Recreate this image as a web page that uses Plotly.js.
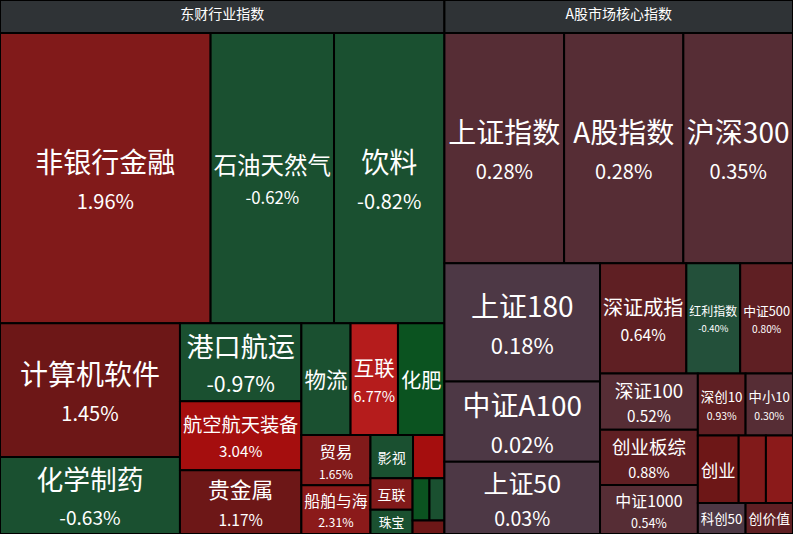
<!DOCTYPE html>
<html><head><meta charset="utf-8">
<script src="https://cdn.plot.ly/plotly-3.0.1.min.js"></script>
<style>html,body{margin:0;padding:0;background:#000;overflow:hidden;width:793px;height:534px;}#chart{width:793px;height:567px;margin-top:-33px;}</style>
</head><body><div id="chart"></div>
<script>
// Groups
var groups = ["东财行业指数", "A股市场核心指数"];
// Leaves of group 1 (东财行业指数)
var indNames  = ["非银行金融","石油天然气","饮料","计算机软件","化学制药","港口航运","航空航天装备","贵金属","物流","互联","化肥","贸易","船舶与海","影视","","互联","珠宝","","",""];
var indSizes  = [59900,35100,31400,23600,13600,9300,8200,7600,5400,5200,5100,3400,3300,1800,1330,1300,1000,700,620,420];
var indChange = [1.96,-0.62,-0.82,1.45,-0.63,-0.97,3.04,1.17,-0.70,6.77,-1.50,1.65,2.31,-0.70,5.50,1.60,-0.70,-1.50,-0.70,1.20];
var indShowPct= [1,1,1,1,1,1,1,1,0,1,0,1,1,0,0,0,0,0,0,0];
// Leaves of group 2 (A股市场核心指数)
var coreNames  = ["上证指数","A股指数","沪深300","上证180","中证A100","上证50","深证成指","红利指数","中证500","深证100","创业板综","中证1000","深创10","中小10","创业","","","科创50","创价值"];
var coreSizes  = [27000,26900,24740,18050,12240,11020,9350,5830,5720,5390,5290,4700,2900,2880,2700,1800,1790,1450,1440];
var coreChange = [0.28,0.28,0.35,0.18,0.02,0.03,0.64,-0.40,0.80,0.52,0.88,0.54,0.93,0.30,1.20,1.65,2.10,0.10,0.70];
var coreShowPct= [1,1,1,1,1,1,1,1,1,1,1,1,1,1,0,0,0,0,0];

function colorFor(c){
  if (c >= 6) return "#b51c1c";
  if (c >= 3) return "#a50e0e";
  if (c >= 2) return "#8b1a1a";
  if (c >= 1.6) return "#811a1a";
  if (c >= 1.0) return "#6d1717";
  if (c >= 0.6) return "#5f1f23";
  if (c >= 0.25) return "#562d35";
  if (c >= 0) return "#4d3845";
  if (c > -0.5) return "#23503a";
  if (c > -1.2) return "#1a5030";
  return "#0b5320";
}

var ids=[], labels=[], parents=[], values=[], colors=[], texts=[], sizes=[];
groups.forEach(function(g){
  ids.push(g); labels.push(g); parents.push(""); values.push(0); colors.push("#2f3336");
  texts.push("<span style='color:#dddddd'>" + g + "</span>"); sizes.push(14);
});
function addLeaves(names, sz, ch, show, gi){
  names.forEach(function(n,i){
    ids.push(groups[gi]+"/"+i); labels.push(n||"·"); parents.push(groups[gi]);
    values.push(sz[i]); colors.push(colorFor(ch[i]));
    var fs = Math.max(14, Math.min(28, Math.sqrt(sz[i])/3.0));
    sizes.push(fs);
    var pct = ch[i].toFixed(2) + "%";
    var overflow = n.length * fs > Math.sqrt(sz[i]);
    var ratio = overflow ? 0.8 : 0.72;
    if (!n) texts.push("");
    else if (show[i]) texts.push(n + "<br><span style='font-size:" + Math.round(Math.max(10, fs*ratio)) + "px'>" + pct + "</span>");
    else texts.push(n);
  });
}
addLeaves(indNames, indSizes, indChange, indShowPct, 0);
addLeaves(coreNames, coreSizes, coreChange, coreShowPct, 1);

var trace = {
  type: "treemap",
  ids: ids, labels: labels, parents: parents, values: values,
  text: texts, texttemplate: "%{text}", textinfo: "text",
  textposition: "middle center",
  textfont: {family: "Noto Sans CJK SC, sans-serif", color: "#ffffff", size: sizes},
  marker: {colors: colors, line: {color: "#000000", width: 2}, pad: {t: 33, l: 0, r: 0, b: 0}},
  tiling: {packing: "squarify", squarifyratio: 1.618, pad: 0},
  pathbar: {visible: false},
  hoverinfo: "skip",
  sort: true
};
var layout = {
  width: 793, height: 567,
  margin: {l: 0, r: 0, t: 0, b: 0},
  paper_bgcolor: "#000000",
  font: {family: "Noto Sans CJK SC, sans-serif", color: "#ffffff"}
};
Plotly.newPlot("chart", [trace], layout, {displayModeBar: false, staticPlot: true});
</script></body></html>
